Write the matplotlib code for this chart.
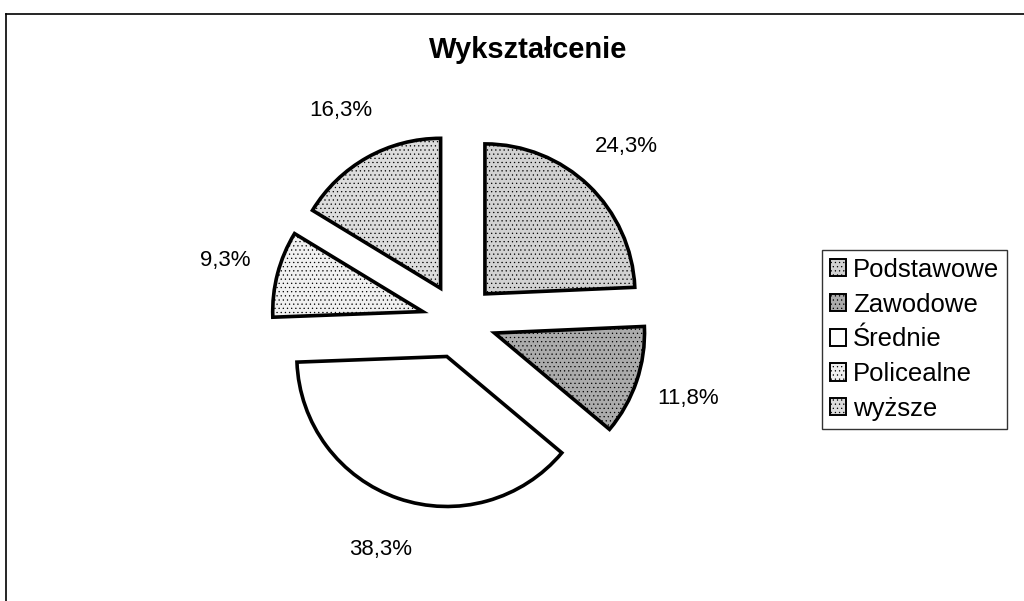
import matplotlib.pyplot as plt
from matplotlib.lines import Line2D

plt.rcParams['font.family'] = ['Liberation Sans', 'DejaVu Sans']

# data
categories = ["Podstawowe", "Zawodowe", "Średnie", "Policealne", "wyższe"]
shares = [24.3, 11.8, 38.3, 9.3, 16.3]
colors = ["#d2d2d2", "#ababab", "#ffffff", "#f0f0f0", "#dcdcdc"]
hatches = ["....", "....", "", "....", "...."]

W, H = 1024, 601
fig = plt.figure(figsize=(W / 100, H / 100), dpi=100)

# chart frame (left and top edge visible in the scan)
fig.add_artist(Line2D([6 / W, 6 / W], [0, 1 - 14 / H], color="black", lw=1.2))
fig.add_artist(Line2D([6 / W, 1], [1 - 14 / H, 1 - 14 / H], color="black", lw=1.2))

# pie axes: centre ~ (459, 321) px, radius ~150 px
R = 150
L = 2.0
cx, cy = 459, 321
side = 2 * L * R
ax = fig.add_axes([(cx - side / 2) / W, (H - cy - side / 2) / H, side / W, side / H])
ax.set_xlim(-L, L)
ax.set_ylim(-L, L)
ax.set_aspect("equal")
ax.axis("off")

plt.rcParams['hatch.color'] = "#8a8a8a"
plt.rcParams['hatch.linewidth'] = 0.4

wedges, texts, autotexts = ax.pie(
    shares, colors=colors, startangle=90, counterclock=False,
    explode=[0.25] * len(shares), radius=1,
    autopct=lambda p: f"{p:.1f}%".replace(".", ","),
    pctdistance=1.36,
    wedgeprops=dict(edgecolor="black", linewidth=2.6),
    textprops=dict(fontsize=16),
)
for w, h in zip(wedges, hatches):
    w.set_hatch(h)
ax.set_xlim(-L, L)
ax.set_ylim(-L, L)

fig.text(528 / W, 1 - 50 / H, "Wykształcenie", ha="center", va="center",
         fontsize=21, fontweight="bold")

leg = fig.legend(wedges, categories, loc="upper left",
                 bbox_to_anchor=(822 / W, 1 - 250 / H),
                 frameon=True, fancybox=False, fontsize=18.5,
                 handlelength=0.65, handleheight=0.65, handletextpad=0.25,
                 labelspacing=0.42, borderpad=0.3, borderaxespad=0)
leg.get_frame().set_edgecolor("black")
leg.get_frame().set_linewidth(1.0)
for h in leg.legend_handles:
    h.set_linewidth(1.4)

fig.savefig("out.png", dpi=100)
